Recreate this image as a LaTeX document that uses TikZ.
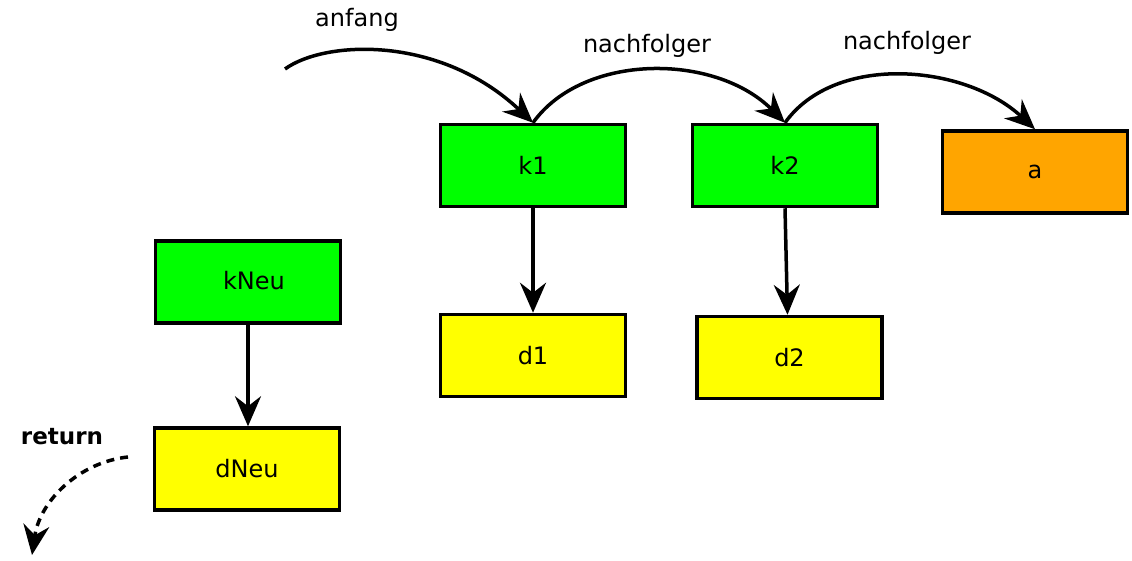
\documentclass[tikz,border=0pt]{standalone}
\usepackage{fontspec}
\setmainfont{DejaVu Sans}
\usetikzlibrary{arrows.meta}
\definecolor{knotengruen}{RGB}{0,255,0}
\definecolor{datengelb}{RGB}{255,255,0}
\definecolor{endorange}{RGB}{255,165,0}
\begin{document}
\begin{tikzpicture}[x=1pt,y=-1pt,
  font=\fontsize{24}{28}\selectfont,
  box/.style={draw=black, line width=3.5pt, minimum width=185pt, minimum height=82pt, inner sep=0pt},
  knoten/.style={box, fill=knotengruen},
  daten/.style={box, fill=datengelb},
  ende/.style={box, fill=endorange},
  pfeil/.style={line width=3.5pt, -{Stealth[length=30pt,width=26pt,inset=10pt]}},
  marke/.style={inner sep=0pt}]
\useasboundingbox (0,0) rectangle (1132,560);

% list nodes
\node[knoten] (k1) at (533,165.5) {k1};
\node[knoten] (k2) at (785,165.5) {k2};
\node[ende]   (a)  at (1035,172) {a};
\node[daten]  (d1) at (533,355.5) {d1};
\node[daten]  (d2) at (789.5,357.5) {d2};

% new node
\node[knoten] (kNeu) at (248,282) {\raisebox{4pt}{\hspace*{12pt}kNeu}};
\node[daten]  (dNeu) at (247,469) {dNeu};

% labels
\node[marke] (lanf) at (357,20) {anfang};
\node[marke] (ln1) at (647,46) {nachfolger};
\node[marke] (ln2) at (907,43) {nachfolger};
\node[marke, font=\fontsize{23}{27}\selectfont\bfseries] (lret) at (62,437) {return};

% references
\coordinate (start) at (285,69);
\draw[pfeil] (start) .. controls (325,40) and (440,35) .. (k1.north);
\draw[pfeil] (k1.north) .. controls +(50,-70) and +(-70,-70) .. (k2.north);
\draw[pfeil] (k2.north) .. controls +(50,-70) and +(-70,-65) .. (a.north);
\draw[pfeil] (k1.south) -- (d1.north -| k1.south);
\draw[pfeil] (k2.south) -- ([xshift=-2pt]d2.north);
\draw[pfeil] (kNeu.south) -- (dNeu.north -| kNeu.south);

% returned reference
\coordinate (rstart) at (128,457);
\coordinate (rend) at (32,555);
\draw[pfeil, dash pattern=on 8pt off 6pt] (rstart) .. controls (80,462) and (40,500) .. (rend);
\end{tikzpicture}
\end{document}
